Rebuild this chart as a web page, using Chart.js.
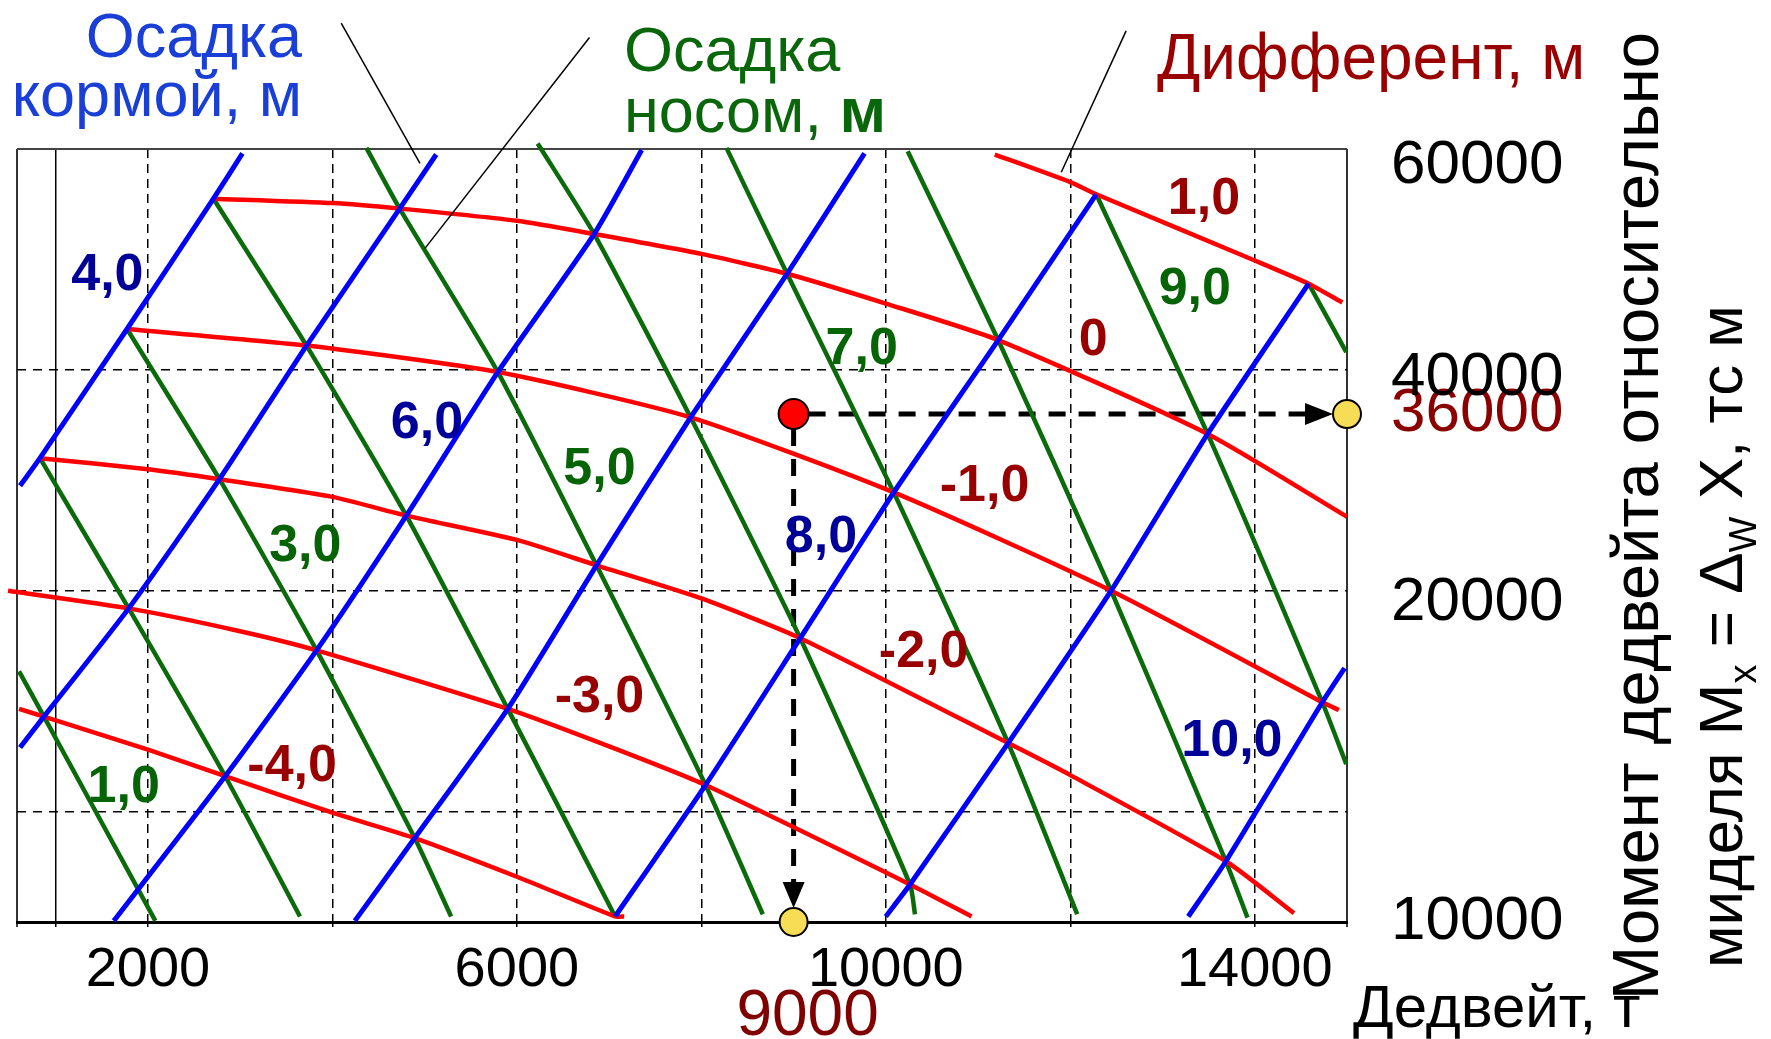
<!DOCTYPE html>
<html>
<head>
<meta charset="utf-8">
<script src="https://cdn.jsdelivr.net/npm/chart.js@4.4.0/dist/chart.umd.min.js"></script>
<style>
  html, body { margin: 0; padding: 0; background: #fff; }
  canvas { display: block; }
</style>
</head>
<body>
<canvas id="myChart" width="1771" height="1039" style="width:1771px;height:1039px"></canvas>
<script>
// ---- данные (дедвейт, т ; момент, тс м) ----

// осадка кормой 4..10 м (синие)
var aftLines = [
    [[613, 29500], [829, 32000], [1773, 43700], [2710, 55500], [3024, 59600]],
    [[613, 5800], [872, 8600], [1791, 18400], [2775, 30100], [3719, 42200], [4729, 54600], [5125, 59500]],
    [[1629, -9900], [2837, 3200], [3828, 14600], [4801, 26800], [5793, 39800], [6838, 52300], [7353, 59900]],
    [[4243, -9900], [4892, -2400], [5901, 9300], [6863, 22300], [7883, 35700], [8929, 48700], [9769, 59600]],
    [[7065, -9500], [8045, 2400], [9072, 15700], [10086, 28900], [11218, 42700], [12281, 55900]],
    [[9999, -9500], [10262, -6600], [11326, 6200], [12443, 20000], [13489, 34200], [14584, 47800]],
    [[13279, -9500], [13687, -4500], [14732, 9900], [14974, 13000]]
];
var aftLabelText = ['4,0', '6,0', '8,0', '10,0'];
var aftLabelAt = [[1560, 48500], [5025, 35100], [9296, 24800], [13752, 6300]];

// осадка носом 1..10 м (зелёные)
var foreLines = [
    [[602, 12700], [872, 8600], [2080, -9900]],
    [[829, 32000], [1791, 18400], [2837, 3200], [3648, -9500]],
    [[1773, 43700], [2775, 30100], [3828, 14600], [4892, -2400], [5287, -9500]],
    [[2710, 55500], [3719, 42200], [4801, 26800], [5901, 9300], [7065, -9500]],
    [[4368, 60100], [4729, 54600], [5793, 39800], [6863, 22300], [8045, 2400], [8666, -9300]],
    [[6225, 60500], [6838, 52300], [7883, 35700], [9072, 15700], [10262, -6600], [10316, -9300]],
    [[8272, 60100], [8929, 48700], [10086, 28900], [11326, 6200], [12075, -9300]],
    [[10237, 59800], [11218, 42700], [12443, 20000], [13687, -4500], [13921, -9600]],
    [[12281, 55900], [13489, 34200], [14732, 9900], [14992, 4300]],
    [[14584, 47800], [14992, 41600]]
];
var foreLabelText = ['1,0', '3,0', '5,0', '7,0', '9,0'];
var foreLabelAt = [[1737, 2200], [3706, 24000], [6895, 31000], [9738, 41800], [13350, 47300]];

// дифферент 1 .. -4 м (красные)
var trimLines = [
    [[11181, 59500], [12000, 57000], [12281, 55900], [14000, 49900], [14584, 47800], [14949, 46100]],
    [[2710, 55500], [4000, 55100], [4729, 54600], [6000, 53500], [6838, 52300], [8000, 50500], [8929, 48700], [10000, 46000], [11218, 42700], [13489, 34200], [14999, 26700]],
    [[1773, 43700], [3719, 42200], [5793, 39800], [7883, 35700], [10086, 28900], [12443, 20000], [14732, 9900], [14912, 9200]],
    [[829, 32000], [2000, 31000], [2775, 30100], [4000, 28500], [4801, 26800], [6000, 24600], [6863, 22300], [8000, 19300], [9072, 15700], [11326, 6200], [12000, 3300], [13687, -4500], [14425, -9200]],
    [[483, 20000], [1791, 18400], [2962, 16400], [3828, 14600], [5901, 9300], [7000, 5900], [8045, 2400], [10262, -6600], [10929, -9500]],
    [[602, 9300], [872, 8600], [2000, 5600], [2837, 3200], [4000, -100], [4892, -2400], [6000, -5900], [7065, -9500], [7163, -9500]]
];
var trimLabelText = ['1,0', '0', '-1,0', '-2,0', '-3,0', '-4,0'];
var trimLabelAt = [[13449, 55400], [12249, 42600], [11070, 29400], [10410, 14400], [6895, 10300], [3563, 4100]];

// пример: дедвейт 9000 т, момент 36000 тс м
var examplePoint = [9000, 36000];
var exampleTargets = [[15000, 36000], [9000, -10000]];

// выноски к подписям
var leaderLines = [
    [[4095, 71400], [4949, 58700]],
    [[6787, 70100], [5003, 51000]],
    [[12605, 70700], [11902, 57900]]
];

// оси
var xGridValues = [580, 1000, 2000, 4000, 6000, 8000, 10000, 12000, 14000, 15000];
var xTickLabels = [2000, 6000, 10000, 14000];
var yTickValues = [-10000, 0, 20000, 36000, 40000, 60000];
var yTickLabels = ['10000', '', '20000', '36000', '40000', '60000'];

var fam = '"Liberation Sans", Arial, sans-serif';
// сдвиг подписей оси Y вниз от линии сетки, px
var yLabelShift = { 20000: 12, 40000: 8, 60000: 17 };

var lineSet = (points, color, width) => ({
    data: points.map(p => ({ x: p[0], y: p[1] })),
    showLine: true,
    borderColor: color,
    borderWidth: width,
    pointRadius: 0,
    tension: 0.2,
    clip: false,
    fill: false
});

var datasets = [];
datasets.push({
    data: [{ x: examplePoint[0], y: examplePoint[1] }],
    pointRadius: 15, backgroundColor: '#ff0000', borderColor: '#000', borderWidth: 2, clip: false
});
datasets.push({
    data: exampleTargets.map(p => ({ x: p[0], y: p[1] })),
    pointRadius: 14, backgroundColor: '#f7dc55', borderColor: '#000', borderWidth: 2, clip: false
});
aftLines.forEach(l => datasets.push(lineSet(l, '#0000ff', 5)));
trimLines.forEach(l => datasets.push(lineSet(l, '#ff0000', 4.5)));
foreLines.forEach(l => datasets.push(lineSet(l, '#0b6b0b', 4.5)));

var arrowHead = (ctx, x, y, dx, dy, len, half) => {
    ctx.beginPath();
    ctx.moveTo(x, y);
    ctx.lineTo(x - dx * len - dy * half, y - dy * len - dx * half);
    ctx.lineTo(x - dx * len + dy * half, y - dy * len + dx * half);
    ctx.closePath();
    ctx.fill();
};

var drawParts = (ctx, parts, size, x, y) => {
    ctx.save();
    ctx.translate(x, y);
    ctx.rotate(-Math.PI / 2);
    ctx.textAlign = 'left';
    ctx.textBaseline = 'middle';
    var cx = 0;
    parts.forEach(p => {
        ctx.font = (p[1] ? Math.round(size * 0.62) : size) + 'px ' + fam;
        ctx.fillText(p[0], cx, p[1] ? size * 0.33 : 0);
        cx += ctx.measureText(p[0]).width;
    });
    ctx.restore();
};

var overlay = {
    id: 'overlay',
    beforeDatasetsDraw(chart) {
        var ctx = chart.ctx, xs = chart.scales.x, ys = chart.scales.y;
        var x0 = xs.getPixelForValue(examplePoint[0]), y0 = ys.getPixelForValue(examplePoint[1]);
        var xr = xs.getPixelForValue(exampleTargets[0][0]);
        var yb = ys.getPixelForValue(exampleTargets[1][1]);
        ctx.save();
        ctx.strokeStyle = '#000';
        ctx.fillStyle = '#000';
        ctx.lineWidth = 5;
        ctx.setLineDash([17, 13]);
        ctx.beginPath();
        ctx.moveTo(x0 + 15, y0);
        ctx.lineTo(xr - 14 - 26, y0);
        ctx.moveTo(x0, y0 + 15);
        ctx.lineTo(x0, yb - 14 - 24);
        ctx.stroke();
        ctx.setLineDash([]);
        arrowHead(ctx, xr - 14, y0, 1, 0, 28, 11);
        arrowHead(ctx, x0, yb - 14, 0, 1, 26, 11);
        ctx.restore();
    },
    afterDatasetsDraw(chart) {
        var ctx = chart.ctx, xs = chart.scales.x, ys = chart.scales.y;
        var px = v => xs.getPixelForValue(v), py = v => ys.getPixelForValue(v);
        ctx.save();

        ctx.strokeStyle = '#000';
        ctx.lineWidth = 1.5;
        leaderLines.forEach(l => {
            ctx.beginPath();
            ctx.moveTo(px(l[0][0]), py(l[0][1]));
            ctx.lineTo(px(l[1][0]), py(l[1][1]));
            ctx.stroke();
        });

        ctx.textAlign = 'center';
        ctx.textBaseline = 'middle';
        ctx.font = 'bold 52px ' + fam;
        ctx.fillStyle = '#000099';
        aftLabelText.forEach((t, i) => ctx.fillText(t, px(aftLabelAt[i][0]), py(aftLabelAt[i][1])));
        ctx.fillStyle = '#066406';
        foreLabelText.forEach((t, i) => ctx.fillText(t, px(foreLabelAt[i][0]), py(foreLabelAt[i][1])));
        ctx.fillStyle = '#990000';
        trimLabelText.forEach((t, i) => ctx.fillText(t, px(trimLabelAt[i][0]), py(trimLabelAt[i][1])));

        // подписи семейств кривых
        ctx.textBaseline = 'alphabetic';
        ctx.textAlign = 'right';
        ctx.font = '63px ' + fam;
        ctx.fillStyle = '#1a3fd6';
        ctx.fillText('Осадка', 302, 57);
        ctx.fillText('кормой, м', 302, 116);

        ctx.textAlign = 'left';
        ctx.fillStyle = '#0a660a';
        ctx.fillText('Осадка', 624, 71);
        ctx.fillText('носом, ', 624, 132);
        var w = ctx.measureText('носом, ').width;
        ctx.font = 'bold 63px ' + fam;
        ctx.fillText('м', 624 + w, 132);

        ctx.font = '64px ' + fam;
        ctx.fillStyle = '#990000';
        ctx.fillText('Дифферент, м', 1157, 79);

        // подписи осей
        ctx.fillStyle = '#000';
        ctx.font = '60px ' + fam;
        ctx.fillText('Дедвейт, т', 1353, 1027);

        ctx.textAlign = 'center';
        ctx.fillStyle = '#800000';
        ctx.font = '64px ' + fam;
        ctx.fillText('9000', px(examplePoint[0]) + 14, 1035);

        ctx.fillStyle = '#000';
        drawParts(ctx, [['Момент дедвейта относительно', 0]], 65, 1640, 1000);
        drawParts(ctx, [['миделя M', 0], ['x', 1], [' = Δ', 0], ['W', 1], [' X, тс м', 0]], 62, 1725, 968);

        ctx.restore();
    }
};

var tickVal = c => (c.tick ? c.tick.value : null);

var ctx = document.getElementById('myChart').getContext('2d');
var chart = new Chart(ctx, {
    type: 'scatter',
    data: { datasets: datasets },
    options: {
        responsive: false,
        animation: false,
        devicePixelRatio: 1,
        layout: { padding: { left: 13, top: 149, right: 0, bottom: 0 } },
        plugins: { legend: { display: false }, tooltip: { enabled: false } },
        scales: {
            x: {
                type: 'linear',
                min: 580,
                max: 15000,
                afterBuildTicks: a => { a.ticks = xGridValues.map(v => ({ value: v })); },
                afterFit: a => { a.height = 117; },
                ticks: {
                    autoSkip: false,
                    maxRotation: 0,
                    padding: 10,
                    color: '#000',
                    font: { family: fam, size: 56 },
                    callback: v => (xTickLabels.indexOf(v) >= 0 ? String(v) : '')
                },
                grid: {
                    color: c => (tickVal(c) === 580 || tickVal(c) === 15000 ? '#333' : '#000'),
                    lineWidth: c => (tickVal(c) === 580 || tickVal(c) === 15000 ? 2 : 1.5),
                    drawTicks: true,
                    tickLength: 5,
                    tickColor: '#000',
                    tickWidth: 1.5
                },
                border: {
                    display: true,
                    color: '#000',
                    width: 3,
                    dash: c => ([580, 1000, 15000].indexOf(tickVal(c)) >= 0 || tickVal(c) === null ? [] : [9, 6])
                }
            },
            y: {
                type: 'linear',
                position: 'right',
                min: -10000,
                max: 60000,
                afterBuildTicks: a => { a.ticks = yTickValues.map(v => ({ value: v })); },
                afterFit: a => { a.width = 424; },
                ticks: {
                    autoSkip: false,
                    padding: 44,
                    color: c => (tickVal(c) === 36000 ? '#8b0000' : '#000'),
                    font: c => {
                        var s = yLabelShift[tickVal(c)];
                        return { family: fam, size: 62, lineHeight: s ? (2 * s) / 62 : 1.2 };
                    },
                    callback: v => {
                        var t = yTickLabels[yTickValues.indexOf(v)];
                        return yLabelShift[v] ? ['', t] : t;
                    }
                },
                grid: {
                    color: c => {
                        var v = tickVal(c);
                        if (v === -10000 || v === 36000) return 'rgba(0,0,0,0)';
                        return v === 60000 ? '#444' : '#000';
                    },
                    lineWidth: c => (tickVal(c) === 60000 ? 2 : 1.5),
                    drawTicks: false
                },
                border: {
                    display: false,
                    dash: c => (tickVal(c) === 60000 || tickVal(c) === null ? [] : [9, 7])
                }
            }
        }
    },
    plugins: [overlay]
});
</script>
</body>
</html>
